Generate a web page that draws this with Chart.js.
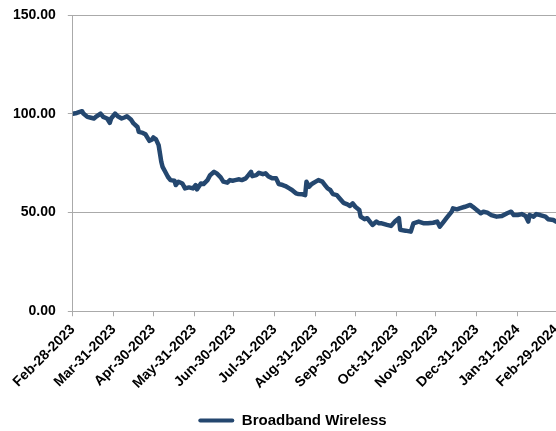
<!DOCTYPE html>
<html>
<head>
<meta charset="utf-8">
<script src="https://cdn.jsdelivr.net/npm/chart.js@4.4.1/dist/chart.umd.min.js"></script>
<style>
html,body{margin:0;padding:0;background:#fff}
#wrap{width:556px;height:431px}
</style>
</head>
<body>
<div id="wrap"><canvas id="grafik"></canvas></div>
<script>
// index level, Feb-28-2023 = 100; x is days since Feb-28-2023
let seriesName="Broadband Wireless"

let days=[0,3,7,8,11,13,16,18,21,23,26,28,29,32,34,37,39,41,44,46,49,50,53,55,58,60,61,63,65,66,67,68,70,72,74,77,78,80,83,85,88,91,93,94,97,99,102,104,107,109,112,114,117,119,121,123,126,128,131,133,135,136,139,141,144,146,148,151,154,156,159,161,164,166,169,171,174,176,177,179,181,184,186,189,191,193,195,197,200,202,205,208,210,212,214,217,218,221,223,225,227,230,232,234,238,241,244,247,248,252,256,258,262,266,269,273,276,278,281,283,287,288,291,293,297,301,303,306,309,311,314,317,321,325,329,332,334,337,340,343,345,346,349,351,354,358,360,364,366]

let values=[100.0,100.4,101.3,100.1,98.4,98.1,97.6,98.7,100.1,98.4,97.6,95.4,97.6,100.1,98.7,97.6,98.1,98.7,97.1,95.1,93.3,90.8,90.3,89.6,86.3,87.0,88.0,87.0,84.1,79.9,75.7,73.1,70.6,68.1,66.4,66.1,63.9,65.6,64.7,62.2,62.7,62.2,63.9,61.7,64.7,64.4,66.4,68.9,70.6,69.8,67.8,65.6,65.1,66.4,66.1,66.4,66.8,66.4,67.3,68.9,70.6,68.4,68.9,70.1,69.4,69.8,68.4,67.3,67.3,64.4,63.9,63.4,62.2,61.4,59.7,59.3,59.2,58.8,65.6,63.0,64.4,65.6,66.4,65.6,63.9,62.2,61.4,59.3,58.8,57.2,54.9,54.1,53.3,54.6,52.9,51.3,47.9,46.6,47.1,45.4,43.7,45.4,44.5,44.5,43.7,43.2,45.4,47.1,41.2,40.8,40.3,44.5,45.4,44.5,44.5,44.8,45.4,42.8,45.4,47.1,50.4,52.1,51.6,52.1,52.9,53.8,52.9,51.3,49.6,50.4,49.9,48.7,47.9,48.2,49.6,50.4,48.7,48.7,49.2,48.2,45.4,48.7,47.9,49.2,48.7,47.9,46.6,46.2,45.4]

// month-end ticks
let tickDays=[0,31,61,92,122,153,184,214,245,275,306,337,366]
let tickLabels=["Feb-28-2023","Mar-31-2023","Apr-30-2023","May-31-2023","Jun-30-2023","Jul-31-2023","Aug-31-2023","Sep-30-2023","Oct-31-2023","Nov-30-2023","Dec-31-2023","Jan-31-2024","Feb-29-2024"]

let yTicks=[0,50,100,150]

let warnaGaris="#24476f"
let warnaGrid="#aaaaaa"
let hurufTebal={family:"'Liberation Sans', Arial, sans-serif",size:14,weight:"bold"}
let hurufLegend={family:"'Liberation Sans', Arial, sans-serif",size:15,weight:"bold"}

let titik=days.map((d,i)=>({x:d,y:values[i]}))

// legend sits a little right of the canvas centre
let geserLegend={
id:"geserLegend",
afterLayout(chart){
chart.legend.left+=14
chart.legend.right+=14
}
}

let ctx=document.getElementById("grafik")

let chartLine=new Chart(ctx,{
type:"line",
data:{
datasets:[{
label:seriesName,
data:titik,
borderColor:warnaGaris,
backgroundColor:warnaGaris,
borderWidth:4.5,
pointRadius:0,
tension:0,
borderJoinStyle:"round",
borderCapStyle:"round"
}]
},
plugins:[geserLegend],
options:{
responsive:true,
maintainAspectRatio:false,
animation:false,
layout:{padding:{left:1,top:15,right:0,bottom:-7}},
plugins:{
tooltip:{enabled:false},
legend:{
position:"bottom",
labels:{
color:"#000",
font:hurufLegend,
boxWidth:36,
boxHeight:4,
padding:3,
generateLabels(chart){
let items=Chart.defaults.plugins.legend.labels.generateLabels(chart)
items.forEach(it=>{
it.lineWidth=0
it.fillStyle=warnaGaris
it.borderRadius=2
})
return items
}
}
}
},
scales:{
x:{
type:"linear",
min:tickDays[0],
max:tickDays[tickDays.length-1],
afterBuildTicks(scale){
scale.ticks=tickDays.map(v=>({value:v}))
},
afterFit(scale){
// rotated dates hang down-left of their ticks; the y labels already leave room
scale.paddingLeft=0
scale.paddingRight=0
// gap between the dates and the legend
scale.height+=13
},
ticks:{
autoSkip:false,
minRotation:45,
maxRotation:45,
color:"#000",
font:hurufTebal,
padding:5,
callback:(v,i)=>tickLabels[i]
},
grid:{
drawOnChartArea:false,
drawTicks:true,
tickLength:5,
color:warnaGrid
},
border:{color:warnaGrid}
},
y:{
min:yTicks[0],
max:yTicks[yTicks.length-1],
afterBuildTicks(scale){
scale.ticks=yTicks.map(v=>({value:v}))
},
afterFit(scale){
scale.paddingTop=0
scale.paddingBottom=0
},
ticks:{
color:"#000",
font:hurufTebal,
padding:12,
callback:v=>v.toFixed(2)
},
grid:{
color:warnaGrid,
tickLength:5
},
border:{color:warnaGrid}
}
}
}
})
</script>
</body>
</html>
